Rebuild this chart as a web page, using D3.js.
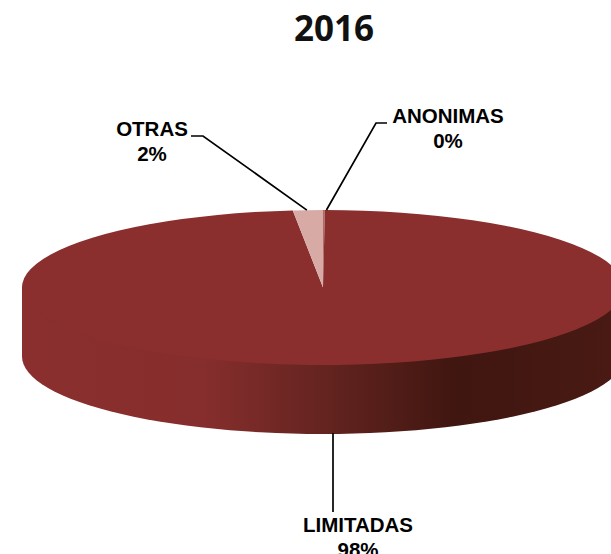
<!DOCTYPE html>
<html>
<head>
<meta charset="utf-8">
<script src="https://cdn.jsdelivr.net/npm/d3@7"></script>
<style>html,body{margin:0;padding:0;background:#fff;overflow:hidden}svg{display:block}</style>
</head>
<body>
<script>
const chartTitle = "2016";
const categories = ["ANONIMAS", "LIMITADAS", "OTRAS"];
const values = [0.1, 98.3, 1.6];
const sliceColors = ["#b06a66", "#8a2f2e", "#d8aaa6"];
const sideStops = [[0, "#8a2f2e"], [0.3, "#862e2d"], [0.5, "#652420"], [0.72, "#401610"], [1, "#4a1a14"]];

const W = 611, H = 554;
const cx = 323, cy = 287.5, rx = 301, ry = 77.5, depth = 69;

const svg = d3.select("body").append("svg").attr("width", W).attr("height", H);
const defs = svg.append("defs");
const grad = defs.append("linearGradient").attr("id", "sideFill")
  .attr("gradientUnits", "userSpaceOnUse")
  .attr("x1", cx - rx).attr("x2", cx + rx).attr("y1", 0).attr("y2", 0);
grad.selectAll("stop").data(sideStops).join("stop")
  .attr("offset", d => d[0]).attr("stop-color", d => d[1]);

const pie = d3.pie().sort(null).value(d => d);
const arcs = pie(values);
const arc = d3.arc().innerRadius(0).outerRadius(rx);
const k = ry / rx;

// side wall: runs under the top face so no seam shows between them
const sx = d3.scaleLinear().domain([-1, 1]).range([cx - rx, cx + rx]);
const sideAngles = d3.range(0, 181, 3).map(a => a * Math.PI / 180);
const sideArea = d3.area()
  .x(a => sx(Math.cos(a)))
  .y0(() => cy)
  .y1(a => cy + depth + ry * Math.sin(a));
svg.append("path").attr("d", sideArea(sideAngles)).attr("fill", "url(#sideFill)");

// top face
const topFace = svg.append("g").attr("transform", `translate(${cx},${cy}) scale(1,${k})`);
topFace.selectAll("path").data(arcs).join("path")
  .attr("d", arc)
  .attr("fill", (d, i) => sliceColors[i]);

// title
svg.append("text").text(chartTitle)
  .attr("x", 334).attr("y", 41).attr("text-anchor", "middle")
  .attr("font-family", "'Open Sans', 'Noto Sans', sans-serif")
  .attr("font-weight", 700).attr("font-size", 35).attr("fill", "#111");

// leaders: anchored on the rim of each slice's mid angle
const rim = (d, dx) => {
  const m = (d.startAngle + d.endAngle) / 2;
  return [cx + rx * Math.sin(m) + dx, cy - ry * Math.cos(m)];
};
const leaderLine = d3.line();
const [anonArc, ltdaArc, otrasArc] = arcs;
const leaders = [
  [[387, 123], [376, 123], rim(anonArc, 2.5)],
  [[191, 136], [203, 136], rim(otrasArc, -1)],
  [[333, cy + ry + depth - 1], [333, 512]]
];
svg.selectAll("path.leader").data(leaders).join("path").attr("class", "leader")
  .attr("d", leaderLine).attr("fill", "none").attr("stroke", "#000").attr("stroke-width", 1.7);

// labels
const labelPos = [[448, 123], [358, 532], [152, 136]];
const pct = v => Math.round(v) + "%";
const labels = svg.selectAll("text.lab").data(categories).join("text").attr("class", "lab")
  .attr("text-anchor", "middle")
  .attr("font-family", "'Liberation Sans', Arial, sans-serif")
  .attr("font-weight", 700).attr("font-size", 20.5).attr("fill", "#000");
labels.append("tspan").attr("x", (d, i) => labelPos[i][0]).attr("y", (d, i) => labelPos[i][1]).text(d => d);
labels.append("tspan").attr("x", (d, i) => labelPos[i][0]).attr("y", (d, i) => labelPos[i][1] + 25).text((d, i) => pct(values[i]));
</script>
</body>
</html>
